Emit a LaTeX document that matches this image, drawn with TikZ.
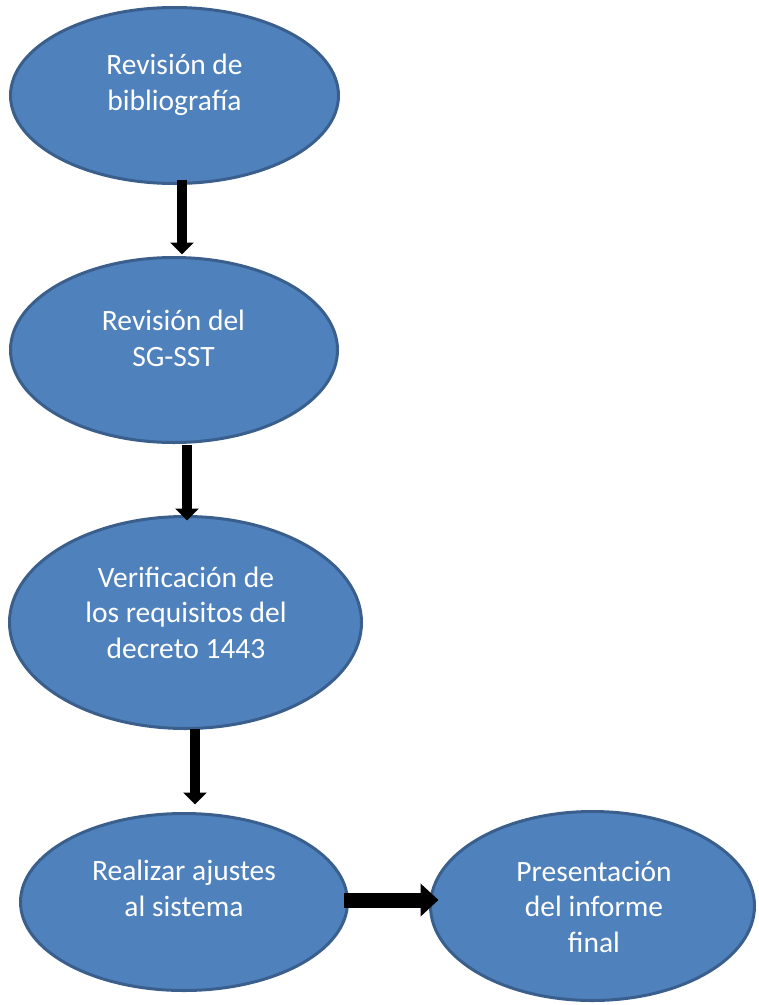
\documentclass[tikz,border=0pt]{standalone}
\usepackage{fontspec}
\setmainfont{Carlito}
\usetikzlibrary{shapes.geometric,arrows.meta}
\definecolor{ofill}{HTML}{4F81BD}
\definecolor{oline}{HTML}{3A5F8C}
\begin{document}
\begin{tikzpicture}[x=1pt,y=-1pt,
  oval/.style={ellipse,draw=oline,fill=ofill,line width=3pt,inner sep=0pt,outer sep=0pt},
  lbl/.style={text=white,font=\fontsize{29.5}{35.5}\selectfont,align=center,anchor=base,inner sep=0pt},
  vflow/.style={line width=10pt,draw=black,-{Triangle[width=23pt,length=12pt]}},
  hflow/.style={line width=15pt,draw=black,-{Triangle[width=32pt,length=18pt]}}]
\useasboundingbox (0,0) rectangle (759,1005);
\node[oval,minimum width=328pt,minimum height=176pt] (e1) at (174.5,95.5) {};
\node[oval,minimum width=327pt,minimum height=185pt] (e2) at (174,350) {};
\node[oval,minimum width=352pt,minimum height=212pt] (e3) at (185.5,622.5) {};
\node[oval,minimum width=327pt,minimum height=177pt] (e4) at (184,902) {};
\node[oval,minimum width=324pt,minimum height=189pt] (e5) at (592.5,906) {};
\node[lbl] (t1) at (174.5,110) {Revisión de\\bibliografía};
\node[lbl] (t2) at (173.5,366) {Revisión del\\SG-SST};
\node[lbl] (t3) at (186,658) {Verificación de\\los requisitos del\\decreto 1443};
\node[lbl] (t4) at (184,916) {Realizar ajustes\\al sistema};
\node[lbl] (t5) at (594,952) {Presentación\\del informe\\final};
\draw[vflow] ([xshift=7.5pt,yshift=4pt]e1.south) -- ([xshift=8pt,yshift=3pt]e2.north);
\draw[vflow] ([xshift=13pt,yshift=-2pt]e2.south) -- ([xshift=1.5pt,yshift=-4pt]e3.north);
\draw[vflow] ([xshift=9.5pt]e3.south) -- ([xshift=11pt,yshift=9pt]e4.north);
\draw[hflow] ([xshift=-4pt,yshift=2pt]e4.east) -- ([xshift=8pt,yshift=6pt]e5.west);
\end{tikzpicture}
\end{document}
